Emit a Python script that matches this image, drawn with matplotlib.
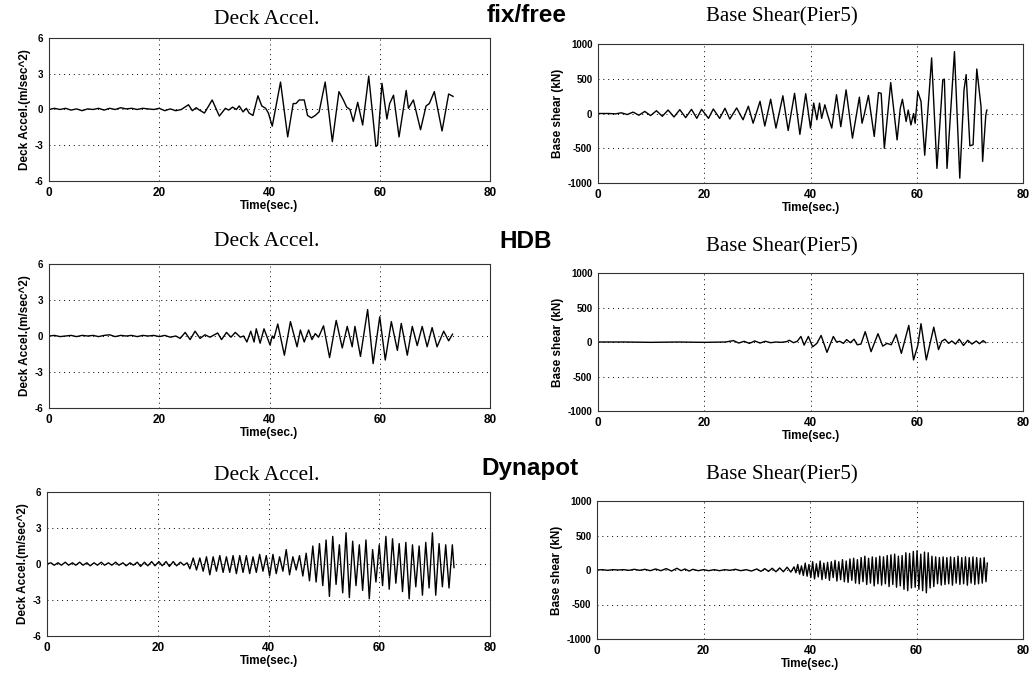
import matplotlib
matplotlib.use('Agg')
import matplotlib.pyplot as plt
plt.rcParams['axes.unicode_minus'] = False

# data: (time in sec, value) ~~~~~~~~~~~~~~~~~~~~~~~~~~~~~~~~~~~~~~~~~~~~~~~~
fixfree_acc = [(0, 0.0), (1, 0.1), (2, 0.0), (3, 0.1), (4, -0.05), (5, 0.05), (6, -0.1), (7, 0.05),
               (8, 0.0), (9, 0.1), (10, -0.05), (11, 0.1), (12, 0.0), (13, 0.15), (14, 0.05), (15, 0.1),
               (16, 0.0), (17, 0.1), (18, 0.05), (19, 0.0), (20, 0.1), (21, -0.1), (22, 0.05), (23, -0.1),
               (24, 0.0), (25.3, 0.4), (26.0, -0.1), (26.7, 0.15), (27.3, -0.05), (28.2, -0.3), (29.6, 0.8),
               (30.9, -0.55), (32.0, 0.1), (32.6, -0.05), (33.3, 0.2), (34.0, 0.0), (34.5, 0.3), (35.2, -0.2),
               (35.8, 0.1), (36.3, -0.3), (37.0, -0.5), (37.9, 1.15), (38.6, 0.3), (39.3, 0.1), (39.8, -0.3),
               (40.5, -1.4), (42.0, 2.3), (43.3, -2.3), (44.3, 0.5), (44.8, 0.5), (45.4, 0.8), (46.3, 0.8),
               (46.9, -0.5), (47.6, -0.7), (48.3, -0.5), (49.0, -0.2), (50.1, 2.3), (51.4, -2.7), (52.6, 1.5),
               (53.4, 0.8), (54.0, 0.2), (54.6, 0.0), (55.2, -1.0), (56.0, 0.6), (56.9, -1.3), (58.0, 2.8),
               (59.3, -3.1), (59.6, -3.0), (60.4, 2.2), (61.3, -0.8), (61.8, 0.5), (62.5, 1.2), (63.5, -2.3),
               (64.8, 1.6), (65.2, 0.1), (66.1, 0.8), (67.4, -1.7), (68.4, 0.3), (69.0, 0.5), (69.9, 1.5),
               (71.3, -1.8), (72.5, 1.3), (73.3, 1.1)]

fixfree_bs = [(0, 0), (2.0, 0), (3.3, -5), (4.4, 10), (5.5, -15), (6.6, 20), (7.7, -25), (8.8, 30),
              (9.9, -30), (11.0, 40), (12.1, -40), (13.2, 50), (14.3, -50), (15.4, 55), (16.5, -60),
              (17.6, 60), (18.6, -70), (19.5, 60), (20.8, -70), (21.7, 65), (22.9, -70), (23.9, 75),
              (24.8, -80), (26.1, 80), (27.3, -90), (28.3, 105), (29.2, -140), (30.5, 175), (31.4, -180),
              (32.5, 205), (33.5, -210), (34.8, 255), (35.8, -245), (37.0, 290), (38.0, -300), (39.1, 285),
              (40.0, -210), (40.6, 150), (41.2, -90), (41.7, 150), (42.1, -70), (42.7, 125), (43.3, -40),
              (44.0, -210), (44.9, 270), (45.7, -190), (46.7, 340), (47.9, -355), (49.2, 235), (49.7, -140),
              (50.1, -20), (50.9, 260), (52.0, -330), (52.8, 300), (53.3, 290), (53.9, -500), (55.1, 445),
              (56.3, -380), (56.9, 75), (57.3, 205), (58.0, -115), (58.4, 50), (58.9, -165), (59.4, 0),
              (59.7, -140), (60.2, 315), (60.8, 175), (61.5, -600), (62.8, 800), (63.8, -790), (64.9, 485),
              (65.2, 495), (65.7, -790), (67.1, 890), (68.1, -930), (68.9, 340), (69.3, 560), (70.0, -465),
              (70.6, -450), (71.3, 640), (72.1, 100), (72.4, -690), (73.0, -20), (73.2, 50)]

hdb_acc = [(0, 0.0), (1, 0.05), (2, -0.05), (3, 0.0), (4, 0.05), (5, -0.05), (6, 0.05), (7, 0.0),
           (8, 0.05), (9, -0.05), (10, 0.05), (11, 0.1), (12, -0.05), (13, 0.05), (14, 0.0), (15, 0.05),
           (16, -0.05), (17, 0.05), (18, 0.0), (19, 0.05), (20, -0.05), (21, 0.05), (22, -0.1), (23, 0.0),
           (23.8, -0.2), (24.7, 0.3), (25.6, -0.3), (26.5, 0.4), (27.4, -0.2), (28.3, 0.1), (29.2, -0.1),
           (30.6, 0.25), (31.3, -0.3), (32.2, 0.3), (33.0, -0.1), (33.8, 0.3), (34.7, -0.1), (35.3, 0.0),
           (35.9, -0.5), (36.6, 0.4), (37.2, -0.5), (37.6, 0.6), (38.3, -0.6), (39.0, 0.6), (40.1, -0.75),
           (40.5, 0.0), (40.8, -0.2), (41.5, 1.0), (42.7, -1.6), (43.8, 1.2), (45.0, -0.9), (45.6, 0.5),
           (46.3, -0.5), (47.1, 0.5), (47.7, -0.3), (48.3, 0.2), (48.9, -0.1), (49.8, 0.85), (50.9, -1.8),
           (52.1, 1.3), (53.2, -1.0), (54.1, 0.8), (55.0, -0.9), (55.5, 0.8), (56.5, -1.7), (57.8, 2.2),
           (58.8, -2.3), (60.0, 1.6), (61.0, -2.0), (62.1, 1.2), (63.2, -1.2), (63.9, 1.05), (65.0, -1.6),
           (65.9, 0.8), (66.8, -0.8), (67.7, 0.8), (68.6, -0.9), (69.5, 0.7), (70.4, -0.9), (71.6, 0.4),
           (72.5, -0.4), (73.2, 0.15)]

hdb_bs = [(0, 0), (5, 0), (10, -5), (15, 0), (20, -5), (24, 0), (25.5, 20), (26.5, -15), (27.5, 10),
          (28.5, -20), (29.5, 15), (30.5, -15), (31.5, 10), (32.5, -10), (33.5, 0), (34.5, -5), (35.5, 5),
          (36.0, 25), (36.8, -10), (37.5, 10), (38.2, 80), (38.8, -45), (39.6, 80), (40.4, -70), (41.2, -20),
          (42.0, 95), (43.1, -150), (44.3, 80), (44.9, 0), (45.5, 10), (46.2, -20), (46.8, 35), (47.5, -10),
          (48.2, 40), (48.8, -40), (49.5, -30), (50.3, 150), (51.4, -140), (52.7, 120), (53.6, -60),
          (54.4, -20), (55.2, -40), (56.1, 110), (57.1, -165), (58.5, 240), (59.4, -260), (60.2, -50),
          (60.8, 265), (61.8, -260), (63.2, 215), (64.1, -110), (64.7, 10), (65.3, 40), (66.0, -20),
          (66.6, 15), (67.3, -30), (68.0, 40), (68.8, -50), (69.6, 25), (70.4, -30), (71.2, 15),
          (71.8, -25), (72.5, 20), (73.0, -10)]

dynapot_acc = [(0.0, 0.0), (0.7, 0.1), (1.3, -0.1), (2.0, 0.1), (2.6, -0.1), (3.3, 0.15), (3.9, -0.1),
               (4.6, 0.1), (5.2, -0.1), (5.9, 0.15), (6.5, -0.1), (7.2, 0.1), (7.8, -0.15), (8.5, 0.1),
               (9.1, -0.1), (9.8, 0.15), (10.4, -0.1), (11.1, 0.1), (11.7, -0.1), (12.4, 0.15), (13.0, -0.1),
               (13.7, 0.1), (14.3, -0.15), (15.0, 0.1), (15.6, -0.1), (16.3, 0.15), (16.9, -0.2), (17.6, 0.15),
               (18.2, -0.15), (18.9, 0.2), (19.5, -0.15), (20.2, 0.2), (20.8, -0.15), (21.5, 0.2), (22.1, -0.2),
               (22.8, 0.2), (23.4, -0.15), (24.1, 0.15), (24.7, -0.1), (25.3, 0.1), (25.8, -0.4), (26.4, 0.5),
               (27.0, -0.5), (27.6, 0.5), (28.2, -0.6), (28.8, 0.6), (29.4, -0.9), (30.0, 0.6), (30.6, -0.6),
               (31.2, 0.7), (31.8, -0.7), (32.4, 0.6), (33.0, -0.7), (33.6, 0.7), (34.2, -0.8), (34.8, 0.7),
               (35.4, -0.7), (36.0, 0.7), (36.6, -0.8), (37.2, 0.6), (37.8, -0.7), (38.4, 0.8), (39.0, -0.6),
               (39.6, 0.7), (40.2, -1.0), (40.8, 0.8), (41.4, -0.8), (42.0, 0.6), (42.6, -0.6), (43.2, 1.2),
               (43.8, -0.9), (44.4, 0.6), (45.0, -0.5), (45.6, 0.7), (46.2, -1.0), (46.8, 0.9), (47.4, -1.4),
               (48.0, 1.5), (48.6, -1.5), (49.2, 1.7), (49.8, -1.8), (50.4, 2.0), (51.0, -2.7), (51.6, 2.3),
               (52.2, -1.7), (52.8, 1.6), (53.4, -2.4), (54.0, 2.6), (54.6, -2.8), (55.2, 1.9), (55.8, -1.8),
               (56.4, 1.6), (57.0, -2.2), (57.6, 2.0), (58.2, -2.9), (58.8, 1.2), (59.4, -1.5), (60.0, 1.6),
               (60.6, -1.8), (61.2, 2.3), (61.8, -2.1), (62.4, 2.1), (63.0, -1.6), (63.6, 1.7), (64.2, -2.3),
               (64.8, 1.8), (65.4, -2.9), (66.0, 1.6), (66.6, -1.9), (67.2, 1.5), (67.8, -2.6), (68.4, 1.8),
               (69.0, -2.0), (69.6, 2.6), (70.2, -2.6), (70.8, 1.7), (71.4, -1.9), (72.0, 1.6), (72.6, -2.0),
               (73.2, 1.6), (73.5, -0.3)]

dynapot_bs = [(0, 0), (1, 5), (2, -5), (3, 5), (4, 0), (5, 5), (6, -5), (7, 10), (8, -5), (9, 10),
              (10, -10), (11, 15), (12, -10), (13, 20), (14, -15), (15, 25), (15.8, -10), (16.5, 15),
              (17.3, -15), (18, 10), (19, -10), (20, 5), (21, -10), (22, 5), (23, -10), (24, 5), (25, -5),
              (26, 10), (27, -10), (28, 5), (29, -15), (30, 15), (30.8, -20), (31.5, 20), (32.2, -20),
              (32.9, 25), (33.6, -25), (34.3, 30), (35.0, -25), (35.7, 40), (36.4, -30), (37.0, 45),
              (37.35, -40), (37.7, 80), (38.05, -60), (38.4, 60), (38.75, -80), (39.1, 100), (39.45, -90),
              (39.8, 80), (40.15, -110), (40.5, 120), (40.85, -130), (41.2, 90), (41.55, -100), (41.9, 130),
              (42.25, -140), (42.6, 100), (42.95, -120), (43.3, 110), (43.65, -150), (44.0, 120),
              (44.35, -110), (44.7, 140), (45.05, -160), (45.4, 120), (45.75, -140), (46.1, 150),
              (46.45, -170), (46.8, 130), (47.15, -180), (47.5, 160), (47.85, -150), (48.2, 170),
              (48.55, -190), (48.9, 150), (49.25, -200), (49.6, 180), (49.95, -170), (50.3, 200),
              (50.65, -210), (51.0, 170), (51.35, -190), (51.7, 190), (52.05, -230), (52.4, 180),
              (52.75, -200), (53.1, 200), (53.45, -220), (53.8, 190), (54.15, -200), (54.5, 210),
              (54.85, -240), (55.2, 220), (55.55, -210), (55.9, 230), (56.25, -250), (56.6, 200),
              (56.95, -230), (57.3, 210), (57.65, -280), (58.0, 250), (58.35, -300), (58.7, 240),
              (59.05, -260), (59.4, 270), (59.75, -250), (60.1, 280), (60.45, -280), (60.8, 230),
              (61.15, -300), (61.5, 260), (61.85, -330), (62.2, 250), (62.55, -260), (62.9, 200),
              (63.25, -240), (63.6, 190), (63.95, -200), (64.3, 180), (64.65, -220), (65.0, 190),
              (65.35, -210), (65.7, 180), (66.05, -200), (66.4, 190), (66.75, -220), (67.1, 180),
              (67.45, -190), (67.8, 200), (68.15, -210), (68.5, 180), (68.85, -200), (69.2, 190),
              (69.55, -220), (69.9, 180), (70.25, -190), (70.6, 190), (70.95, -210), (71.3, 180),
              (71.65, -200), (72.0, 170), (72.35, -190), (72.7, 180), (73.05, -170), (73.3, 100)]

acc_ticks = [-6, -3, 0, 3, 6]
bs_ticks = [-1000, -500, 0, 500, 1000]
time_ticks = [0, 20, 40, 60, 80]
cases = ['fix/free', 'HDB', 'Dynapot']

W, H = 1035., 678.
fig = plt.figure(figsize=(W / 100, H / 100), dpi=100)
sans = 'Liberation Sans'
serif = 'Liberation Serif'


# helper functions ~~~~~~~~~~~~~~~~~~~~~~~~~~~~~~~~~~~~~~~~~~~~~~~~~~~~~~~~~~
def px_axes(left, top, right, bottom):
    return fig.add_axes([left / W, 1 - bottom / H, (right - left) / W, (bottom - top) / H])


def draw_panel(ax, series, yticks, ylabel):
    t, v = zip(*series)
    ax.plot(t, v, color='k', lw=1.0, solid_joinstyle='round')
    ax.set_xlim(0, 80)
    ax.set_ylim(yticks[0], yticks[-1])
    ax.set_xticks(time_ticks)
    ax.set_yticks(yticks)
    ax.grid(True, color='k', lw=0.7, linestyle=(0, (1, 4)))
    ax.tick_params(axis='x', length=0, pad=4, labelsize=8.5)
    ax.tick_params(axis='y', length=0, pad=4, labelsize=7)
    for lab in ax.get_xticklabels() + ax.get_yticklabels():
        lab.set_fontfamily(sans)
        lab.set_fontweight('bold')
    for sp in ax.spines.values():
        sp.set_linewidth(0.8)
        sp.set_color('#333333')
    ax.set_xlabel('Time(sec.)', fontsize=8.5, fontweight='bold', family=sans, labelpad=1)
    ax.set_ylabel(ylabel, fontsize=8.5, fontweight='bold', family=sans, labelpad=3)


def label(x, y, s, **kw):
    fig.text(x / W, 1 - y / H, s, ha='center', va='center', **kw)


# panels ~~~~~~~~~~~~~~~~~~~~~~~~~~~~~~~~~~~~~~~~~~~~~~~~~~~~~~~~~~~~~~~~~~~~~
acc_data = [fixfree_acc, hdb_acc, dynapot_acc]
bs_data = [fixfree_bs, hdb_bs, dynapot_bs]
left_boxes = [(49, 38, 490, 181), (49, 264, 490, 408), (47, 492, 490, 636)]
right_boxes = [(598, 44, 1023, 183), (598, 273, 1023, 411), (597, 501, 1023, 639)]
title_y = [(20, 17), (242, 247), (475, 475)]
case_pos = [(527, 16), (526, 242), (530, 469)]

for i in range(3):
    ax = px_axes(*left_boxes[i])
    draw_panel(ax, acc_data[i], acc_ticks, 'Deck Accel.(m/sec^2)')
    ax2 = px_axes(*right_boxes[i])
    draw_panel(ax2, bs_data[i], bs_ticks, 'Base shear (kN)')
    label(267, title_y[i][0], 'Deck Accel.', family=serif, fontsize=15.5)
    label(782, title_y[i][1], 'Base Shear(Pier5)', family=serif, fontsize=15)
    label(case_pos[i][0], case_pos[i][1], cases[i], family=sans, fontsize=17.5, fontweight='bold')

fig.savefig('out.png', dpi=100)
